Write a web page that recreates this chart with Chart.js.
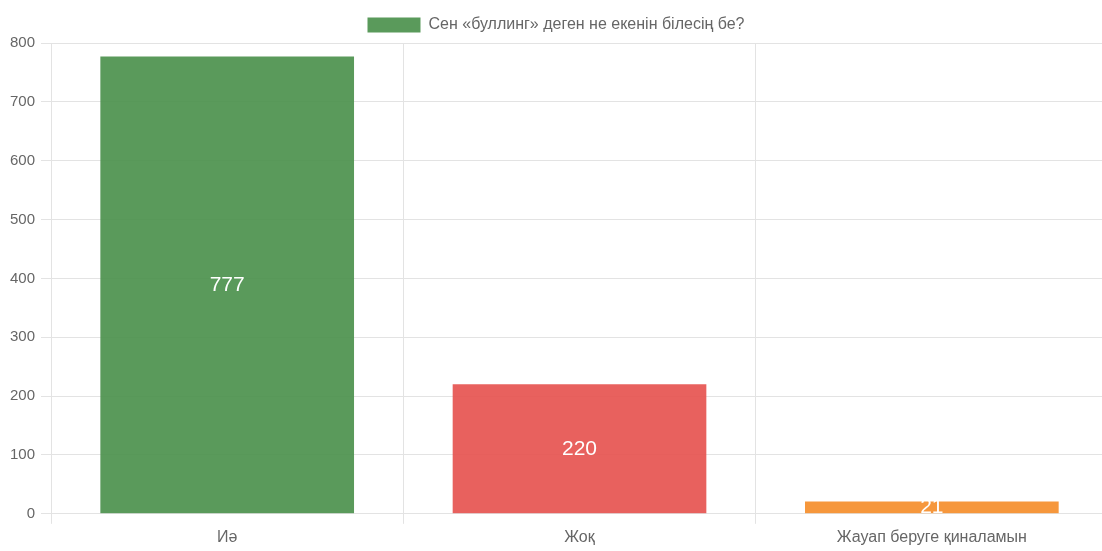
<!DOCTYPE html>
<html>
<head>
<meta charset="utf-8">
<script src="https://cdn.jsdelivr.net/npm/chart.js@4.4.0/dist/chart.umd.min.js"></script>
<style>
  html, body { margin: 0; padding: 0; background: #fff; overflow: hidden; }
  #wrap { width: 1108px; height: 551px; }
</style>
</head>
<body>
<div id="wrap"><canvas id="myChart"></canvas></div>
<script>
/* bar chart with values in the middle of each bar */

let categories = ["Иә", "Жоқ", "Жауап беруге қиналамын"];
let values = [777, 220, 21];
let series_name = "Сен «буллинг» деген не екенін білесің бе?";
let bar_colors = ["rgba(76,145,77,0.92)", "rgba(230,80,77,0.9)", "rgba(246,145,50,0.95)"];
let y_ticks = [0, 100, 200, 300, 400, 500, 600, 700, 800];

Chart.defaults.font.family = "Arial, 'Liberation Sans', sans-serif";
Chart.defaults.font.size = 16;
Chart.defaults.color = "#666";

// draw the number in the middle of a bar, clipped to the plot area
let center_labels = {
  id: "center_labels",
  afterDatasetsDraw(chart) {
    let ctx = chart.ctx;
    let area = chart.chartArea;
    ctx.save();
    ctx.beginPath();
    ctx.rect(area.left, area.top, area.right - area.left, area.bottom - area.top);
    ctx.clip();
    ctx.fillStyle = "#fff";
    ctx.font = "21px Arial, 'Liberation Sans', sans-serif";
    ctx.textAlign = "center";
    ctx.textBaseline = "middle";
    chart.getDatasetMeta(0).data.forEach(function (bar, i) {
      let mid = (bar.y + bar.base) / 2;
      ctx.fillText(String(values[i]), bar.x, mid);
    });
    ctx.restore();
  },
};

new Chart("myChart", {
  type: "bar",
  data: {
    labels: categories,
    datasets: [
      {
        label: series_name,
        data: values,
        backgroundColor: bar_colors,
        borderWidth: 0,
      },
    ],
  },
  options: {
    responsive: true,
    maintainAspectRatio: false,
    animation: false,
    layout: { padding: { top: 3, right: 0, left: 4, bottom: 0 } },
    plugins: {
      legend: {
        labels: {
          boxWidth: 53,
          boxHeight: 15,
          padding: 14,
          color: "#666",
          generateLabels: function (chart) {
            return [{
              text: series_name,
              fillStyle: bar_colors[0],
              strokeStyle: "rgba(0,0,0,0)",
              lineWidth: 0,
              fontColor: "#666",
              datasetIndex: 0,
            }];
          },
        },
      },
      tooltip: { enabled: false },
    },
    scales: {
      x: {
        grid: { color: "#e3e3e3", tickLength: 10, offset: true },
        ticks: { color: "#666", padding: 4 },
        border: { color: "#e3e3e3" },
      },
      y: {
        min: 0,
        max: 800,
        afterBuildTicks: function (axis) {
          axis.ticks = y_ticks.map(function (v) { return { value: v }; });
        },
        grid: { color: "#e3e3e3", tickLength: 10 },
        ticks: { color: "#666", padding: 6, font: { size: 15 } },
        border: { color: "#e3e3e3" },
      },
    },
  },
  plugins: [center_labels],
});
</script>
</body>
</html>
